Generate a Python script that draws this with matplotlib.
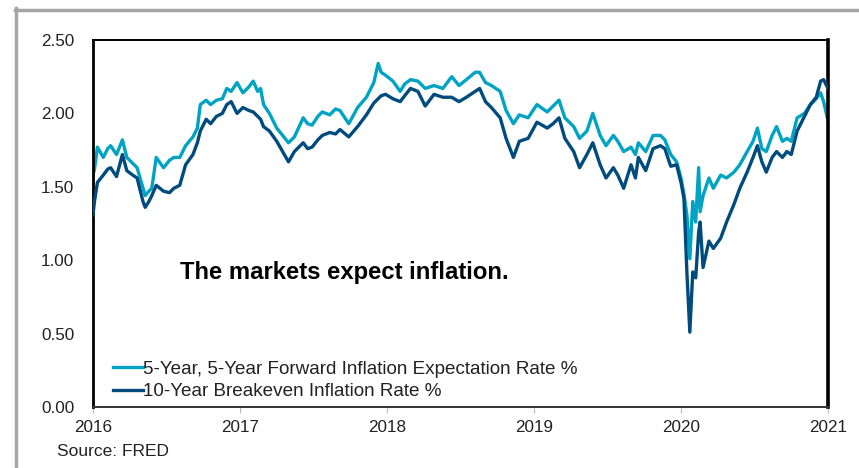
import numpy as np
import matplotlib.pyplot as plt
from matplotlib.lines import Line2D

plt.rcParams['font.family'] = ['Liberation Sans', 'DejaVu Sans']

# Dates as decimal years, values in percent
years = [
    2016.00, 2016.01, 2016.03, 2016.07, 2016.10, 2016.12, 2016.16, 2016.20, 2016.23, 2016.27,
    2016.30, 2016.34, 2016.355, 2016.38, 2016.40, 2016.43, 2016.48, 2016.52, 2016.55, 2016.59,
    2016.63, 2016.68, 2016.71, 2016.73, 2016.77, 2016.80, 2016.84, 2016.88, 2016.91, 2016.94,
    2016.98, 2017.02, 2017.06, 2017.09, 2017.12, 2017.14, 2017.16, 2017.20, 2017.25, 2017.29,
    2017.33, 2017.37, 2017.43, 2017.46, 2017.49, 2017.53, 2017.56, 2017.61, 2017.65, 2017.68,
    2017.74, 2017.80, 2017.86, 2017.91, 2017.94, 2017.96, 2017.99, 2018.04, 2018.09, 2018.12,
    2018.16, 2018.21, 2018.26, 2018.32, 2018.38, 2018.44, 2018.49, 2018.54, 2018.60, 2018.63,
    2018.67, 2018.71, 2018.77, 2018.81, 2018.86, 2018.90, 2018.96, 2019.02, 2019.09, 2019.13,
    2019.17, 2019.21, 2019.27, 2019.31, 2019.36, 2019.40, 2019.45, 2019.49, 2019.54, 2019.57,
    2019.61, 2019.66, 2019.69, 2019.71, 2019.76, 2019.81, 2019.86, 2019.89, 2019.93, 2019.97,
    2020.00, 2020.02, 2020.04, 2020.06, 2020.08, 2020.10, 2020.12, 2020.13, 2020.15, 2020.19,
    2020.22, 2020.27, 2020.31, 2020.36, 2020.40, 2020.45, 2020.49, 2020.52, 2020.55, 2020.58,
    2020.62, 2020.65, 2020.69, 2020.72, 2020.75, 2020.79, 2020.84, 2020.88, 2020.92, 2020.95,
    2020.97, 2021.00,
]

fwd_5y5y = [
    1.58, 1.62, 1.77, 1.70, 1.76, 1.78, 1.72, 1.82, 1.70, 1.66,
    1.63, 1.49, 1.44, 1.47, 1.49, 1.70, 1.63, 1.68, 1.70, 1.70,
    1.78, 1.84, 1.90, 2.06, 2.09, 2.06, 2.09, 2.10, 2.17, 2.15,
    2.21, 2.14, 2.18, 2.22, 2.15, 2.17, 2.06, 2.00, 1.90, 1.85,
    1.80, 1.84, 1.97, 1.93, 1.92, 1.98, 2.01, 1.99, 2.03, 2.02,
    1.93, 2.04, 2.11, 2.21, 2.34, 2.28, 2.26, 2.22, 2.15, 2.20,
    2.23, 2.22, 2.17, 2.19, 2.17, 2.25, 2.19, 2.23, 2.28, 2.28,
    2.21, 2.19, 2.15, 2.02, 1.93, 1.99, 1.97, 2.06, 2.01, 2.05,
    2.09, 1.97, 1.91, 1.83, 1.88, 2.00, 1.85, 1.78, 1.85, 1.81,
    1.74, 1.77, 1.72, 1.80, 1.74, 1.85, 1.85, 1.82, 1.72, 1.67,
    1.56, 1.45, 1.31, 1.01, 1.40, 1.26, 1.63, 1.33, 1.44, 1.56,
    1.49, 1.58, 1.56, 1.60, 1.65, 1.74, 1.81, 1.90, 1.76, 1.74,
    1.85, 1.91, 1.81, 1.83, 1.81, 1.97, 2.00, 2.06, 2.10, 2.14,
    2.08, 1.95,
]

breakeven_10y = [
    1.31, 1.40, 1.53, 1.58, 1.62, 1.63, 1.57, 1.72, 1.61, 1.58,
    1.56, 1.40, 1.36, 1.40, 1.44, 1.51, 1.47, 1.46, 1.49, 1.51,
    1.65, 1.72, 1.80, 1.88, 1.96, 1.93, 1.98, 2.00, 2.06, 2.08,
    2.00, 2.04, 2.02, 2.01, 1.98, 1.96, 1.91, 1.88, 1.81, 1.74,
    1.67, 1.74, 1.80, 1.76, 1.77, 1.82, 1.85, 1.87, 1.86, 1.89,
    1.84, 1.91, 1.99, 2.07, 2.10, 2.12, 2.13, 2.10, 2.08, 2.12,
    2.17, 2.15, 2.05, 2.13, 2.11, 2.11, 2.08, 2.11, 2.15, 2.17,
    2.08, 2.04, 1.97, 1.83, 1.70, 1.81, 1.83, 1.94, 1.90, 1.93,
    1.97, 1.83, 1.74, 1.63, 1.72, 1.80, 1.65, 1.56, 1.63, 1.58,
    1.49, 1.65, 1.56, 1.70, 1.61, 1.76, 1.78, 1.76, 1.64, 1.65,
    1.53, 1.42, 0.92, 0.51, 0.92, 0.88, 1.19, 1.26, 0.95, 1.13,
    1.08, 1.15, 1.26, 1.38, 1.49, 1.60, 1.70, 1.78, 1.67, 1.60,
    1.70, 1.74, 1.70, 1.74, 1.72, 1.88, 1.98, 2.06, 2.11, 2.22,
    2.23, 2.17,
]

series_labels = ["5-Year, 5-Year Forward Inflation Expectation Rate %",
                 "10-Year Breakeven Inflation Rate %"]
year_ticks = [2016, 2017, 2018, 2019, 2020, 2021]
y_ticks = [0.0, 0.5, 1.0, 1.5, 2.0, 2.5]

fig = plt.figure(figsize=(8.59, 4.68), dpi=100)
ax = fig.add_axes([93 / 859, 1 - 407 / 468, (828 - 93) / 859, (407 - 40) / 468])

ax.plot(years, fwd_5y5y, color="#00A3C4", lw=2.4, label=series_labels[0], zorder=2)
ax.plot(years, breakeven_10y, color="#004B7D", lw=2.4, label=series_labels[1], zorder=3)

ax.set_xlim(2016, 2021)
ax.set_ylim(0, 2.5)
ax.set_xticks(year_ticks)
ax.set_xticklabels([str(y) for y in year_ticks])
ax.set_yticks(y_ticks)
ax.set_yticklabels([f"{v:.2f}" for v in y_ticks])
ax.tick_params(axis="y", length=0, pad=13.5, labelsize=12.3, labelcolor="#222222")
ax.tick_params(axis="x", length=4, width=0.8, color="#BBBBBB", pad=5,
               labelsize=12.3, labelcolor="#222222")

ax.spines["left"].set_linewidth(2.0)
ax.spines["right"].set_linewidth(2.6)
ax.spines["top"].set_linewidth(1.4)
ax.spines["bottom"].set_linewidth(1.4)
ax.spines["bottom"].set_color("#333333")

fig.text(180 / 859, 1 - 273 / 468, "The markets expect inflation.",
         fontsize=17.2, fontweight="bold", va="center", ha="left")

ax.legend(loc="lower left", bbox_to_anchor=(20 / 735, 0.018), frameon=False,
          fontsize=13.6, handlelength=1.6, handletextpad=0.0,
          labelspacing=0.3, borderaxespad=0.0, borderpad=0.0,
          labelcolor="#222222")

fig.text(57 / 859, 1 - 452 / 468, "Source: FRED", fontsize=12.5,
         va="center", ha="left", color="#222222")

# grey frame around the chart (clipped on right and bottom)
frame_col = "#A6A6A6"
fig.add_artist(Line2D([15.5 / 859, 15.5 / 859], [0, 1 - 8 / 468],
                      transform=fig.transFigure, color=frame_col, lw=2.5))
fig.add_artist(Line2D([14.5 / 859, 1], [1 - 9.5 / 468, 1 - 9.5 / 468],
                      transform=fig.transFigure, color=frame_col, lw=2.5))

fig.savefig("out.png", dpi=100)
